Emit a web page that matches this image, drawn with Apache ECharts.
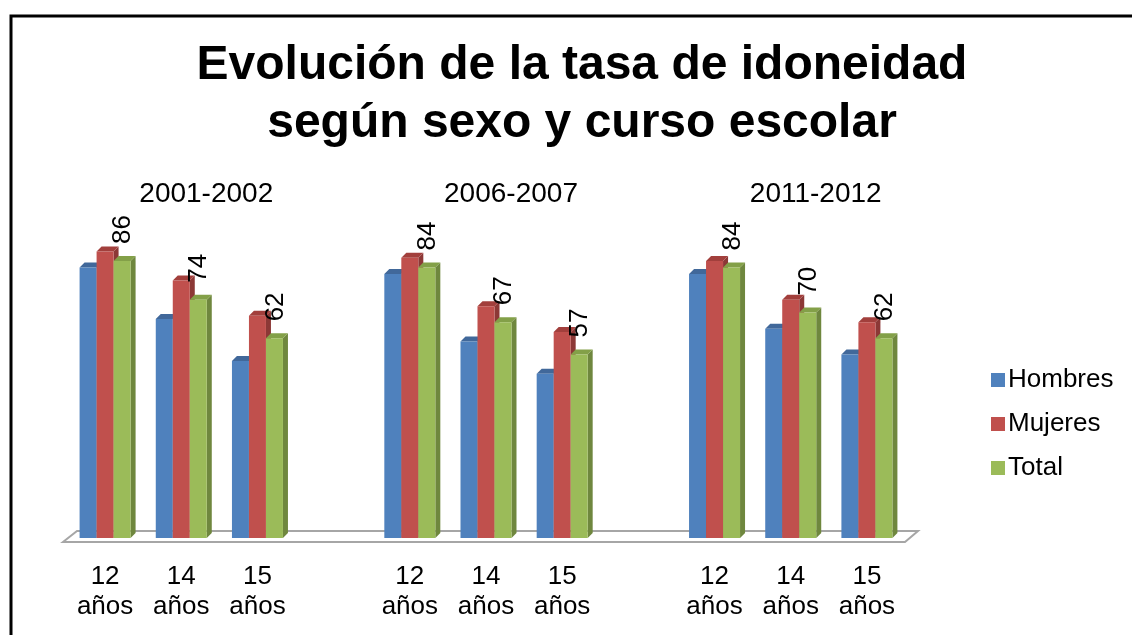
<!DOCTYPE html>
<html>
<head>
<meta charset="utf-8">
<script src="https://cdn.jsdelivr.net/npm/echarts@6/dist/echarts.min.js"></script>
<style>
  html, body { margin: 0; padding: 0; background: #fff; }
  #chart { width: 1132px; height: 635px; }
</style>
</head>
<body>
<div id="chart"></div>
<script>
// categories: three school years, one empty slot between them
const categories = ["12\naños", "14\naños", "15\naños", "", "12\naños", "14\naños", "15\naños", "", "12\naños", "14\naños", "15\naños"];
const groupLabels = ["2001-2002", "2006-2007", "2011-2012"];
const groupIndex = [1, 5, 9];

const hombres = [84, 68, 55, null, 82, 61, 51, null, 82, 65, 57];
const mujeres = [89, 80, 69, null, 87, 72, 64, null, 86, 74, 67];
const total = [86, 74, 62, null, 84, 67, 57, null, 84, 70, 62];

const FONT = "Liberation Sans, Arial, sans-serif";

const colors = {
    Hombres: { front: "#4F81BD", side: "#385D8A", top: "#41689A" },
    Mujeres: { front: "#C0504D", side: "#8C3836", top: "#A23F3C" },
    Total: { front: "#9BBB59", side: "#6F873E", top: "#83A048" },
};

const toData = (arr) => arr.map((v, i) => (v == null ? null : [i, v])).filter((d) => d);

// 3d-ish bar: front face, right side and top
function barRenderer(pos, c, withLabel) {
    return function (params, api) {
        const cat = api.value(0);
        const val = api.value(1);
        const top = api.coord([cat, val]);
        const base = api.coord([cat, 0]);
        const bw = 17;
        const d = 5;
        const x0 = top[0] + (pos - 1.5) * bw;
        const children = [
            {
                type: "polygon",
                shape: { points: [[x0 + bw, top[1]], [x0 + bw + d, top[1] - d], [x0 + bw + d, base[1] - d], [x0 + bw, base[1]]] },
                style: { fill: c.side },
            },
            {
                type: "polygon",
                shape: { points: [[x0, top[1]], [x0 + d, top[1] - d], [x0 + bw + d, top[1] - d], [x0 + bw, top[1]]] },
                style: { fill: c.top },
            },
            {
                type: "rect",
                shape: { x: x0, y: top[1], width: bw, height: base[1] - top[1] },
                style: { fill: c.front },
            },
        ];
        if (withLabel) {
            children.push({
                type: "text",
                x: x0 + bw / 2 + 1,
                y: top[1] - 17,
                rotation: Math.PI / 2,
                style: { text: String(val), font: "26px " + FONT, fill: "#000", align: "left", verticalAlign: "middle" },
            });
        }
        return { type: "group", children: children };
    };
}

const chart = echarts.init(document.getElementById("chart"));

const seriesList = [
    ["Hombres", hombres, 0, false],
    ["Mujeres", mujeres, 1, false],
    ["Total", total, 2, true],
].map(([name, arr, pos, lbl]) => ({
    name: name,
    type: "custom",
    data: toData(arr),
    itemStyle: { color: colors[name].front },
    renderItem: barRenderer(pos, colors[name], lbl),
    z: 3,
}));

chart.setOption({
    animation: false,
    title: {
        text: "Evolución de la tasa de idoneidad\nsegún sexo y curso escolar",
        left: 577,
        textAlign: "center",
        top: 32,
        textStyle: { fontFamily: FONT, fontSize: 48, fontWeight: "bold", color: "#000", lineHeight: 58 },
    },
    legend: {
        orient: "vertical",
        left: 986,
        top: 362,
        itemWidth: 14,
        itemHeight: 14,
        itemGap: 18,
        icon: "rect",
        data: ["Hombres", "Mujeres", "Total"],
        textStyle: { fontFamily: FONT, fontSize: 26, color: "#000", padding: [0, 0, 0, -2] },
    },
    grid: { left: 67, right: 227, top: 216, bottom: 97 },
    xAxis: {
        type: "category",
        data: categories,
        axisLine: { show: false },
        axisTick: { show: false },
        axisLabel: { interval: 0, margin: 24, fontFamily: FONT, fontSize: 26, color: "#000", lineHeight: 30 },
    },
    yAxis: { type: "value", min: 0, max: 100, show: false, splitLine: { show: false } },
    series: seriesList,
});

// floor, frame and the school-year captions
const x0 = chart.convertToPixel({ xAxisIndex: 0 }, 0);
const xEnd = chart.convertToPixel({ xAxisIndex: 0 }, categories.length - 1);
const half = (xEnd - x0) / (categories.length - 1) / 2;
const yBase = chart.convertToPixel({ yAxisIndex: 0 }, 0);
const left = x0 - half - 4;
const right = xEnd + half;

chart.setOption({
    graphic: [
        {
            type: "polygon",
            z: 1,
            shape: { points: [[left, yBase + 4], [left + 14, yBase - 7], [right + 13, yBase - 7], [right, yBase + 4]] },
            style: { fill: "#fff", stroke: "#A6A6A6", lineWidth: 2 },
        },
        {
            type: "rect",
            z: 10,
            shape: { x: 11, y: 16, width: 1300, height: 800 },
            style: { fill: null, stroke: "#000", lineWidth: 3 },
        },
    ].concat(groupLabels.map((g, i) => ({
        type: "text",
        z: 5,
        x: chart.convertToPixel({ xAxisIndex: 0 }, groupIndex[i]) + 25,
        y: 194,
        style: { text: g, font: "28px " + FONT, fill: "#000", align: "center", verticalAlign: "middle" },
    }))),
});
</script>
</body>
</html>
